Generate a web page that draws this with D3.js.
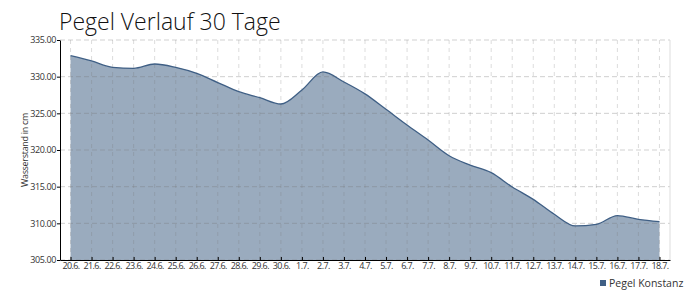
<!DOCTYPE html>
<html>
<head>
<meta charset="utf-8">
<script src="https://cdn.jsdelivr.net/npm/d3@7"></script>
<style>
  body { margin: 0; background: #fff; }
  svg { display: block; font-family: "Open Sans", sans-serif; }
</style>
</head>
<body>
<div id="chartContainer"></div>
<script>
const days = ["20.6.", "21.6.", "22.6.", "23.6.", "24.6.", "25.6.", "26.6.", "27.6.", "28.6.", "29.6.", "30.6.",
  "1.7.", "2.7.", "3.7.", "4.7.", "5.7.", "6.7.", "7.7.", "8.7.", "9.7.", "10.7.", "11.7.", "12.7.", "13.7.",
  "14.7.", "15.7.", "16.7.", "17.7.", "18.7."];
const pegel = [332.86, 332.14, 331.27, 331.14, 331.73, 331.27, 330.45, 329.2, 327.95, 327.14, 326.27,
  328.18, 330.64, 329.27, 327.65, 325.55, 323.41, 321.36, 319.22, 317.95, 316.91, 314.95, 313.27, 311.23,
  309.64, 309.86, 311.05, 310.55, 310.23];
const yTicks = [305, 310, 315, 320, 325, 330, 335];
const seriesName = "Pegel Konstanz";

const svg = d3.select("#chartContainer").append("svg").attr("width", 700).attr("height", 300);

const margin = { top: 40, right: 30, bottom: 40, left: 60 };
const width = 700 - margin.left - margin.right;
const height = 300 - margin.top - margin.bottom;

const x = d3.scalePoint().domain(days).range([0, width]).padding(0.5);
const y = d3.scaleLinear().domain([305, 335]).range([height, 0]);

svg.append("text")
  .attr("x", 59)
  .attr("y", 30)
  .attr("font-size", 23)
  .attr("font-weight", 300)
  .attr("fill", "#111")
  .text("Pegel Verlauf 30 Tage");

const g = svg.append("g").attr("transform", `translate(${margin.left},${margin.top})`);

// area + line
const area = d3.area().x((d, i) => x(days[i])).y0(height).y1((d) => y(d)).curve(d3.curveMonotoneX);
const line = d3.line().x((d, i) => x(days[i])).y((d) => y(d)).curve(d3.curveMonotoneX);

g.append("path").datum(pegel).attr("d", area).attr("fill", "#9aabbe");

// grid on top of the area
g.append("g").selectAll("line").data(days).enter().append("line")
  .attr("x1", (d) => x(d)).attr("x2", (d) => x(d))
  .attr("y1", 0).attr("y2", height)
  .attr("stroke", "rgba(120,120,120,0.25)")
  .attr("stroke-dasharray", "4,4");

g.append("g").selectAll("line").data(yTicks).enter().append("line")
  .attr("x1", 0).attr("x2", width)
  .attr("y1", (d) => y(d)).attr("y2", (d) => y(d))
  .attr("stroke", "rgba(120,120,120,0.35)")
  .attr("stroke-dasharray", "5,3");

g.append("line").attr("x1", width).attr("x2", width).attr("y1", 0).attr("y2", height)
  .attr("stroke", "#ddd");

g.append("path").datum(pegel).attr("d", line)
  .attr("fill", "none").attr("stroke", "#3f5f85").attr("stroke-width", 1.3);

// axes
const yAxis = g.append("g").call(d3.axisLeft(y).tickValues(yTicks).tickFormat(d3.format(".2f")).tickSize(3).tickSizeOuter(0));
yAxis.select(".domain").attr("stroke", "#000");
yAxis.selectAll("text").attr("font-size", 9).attr("font-family", "Open Sans").attr("fill", "#333")
  .attr("letter-spacing", "-0.4px").attr("x", -4);

const xAxis = g.append("g").attr("transform", `translate(0,${height})`)
  .call(d3.axisBottom(x).tickSize(-3).tickSizeOuter(0));
xAxis.select(".domain").attr("stroke", "#000");
xAxis.selectAll("text").attr("font-size", 9).attr("font-family", "Open Sans").attr("fill", "#333")
  .attr("letter-spacing", "-0.6px").attr("y", 3);

svg.append("text")
  .attr("transform", "rotate(-90)")
  .attr("x", -(margin.top + height / 2))
  .attr("y", 28)
  .attr("text-anchor", "middle")
  .attr("font-size", 9)
  .attr("fill", "#333")
  .attr("letter-spacing", "-0.3px")
  .text("Wasserstand in cm");

// legend
svg.append("rect").attr("x", 600).attr("y", 280).attr("width", 6).attr("height", 6).attr("fill", "#3f5f85");
svg.append("text").attr("x", 609).attr("y", 287).attr("font-size", 10.5).attr("fill", "#333").text(seriesName);
</script>
</body>
</html>
